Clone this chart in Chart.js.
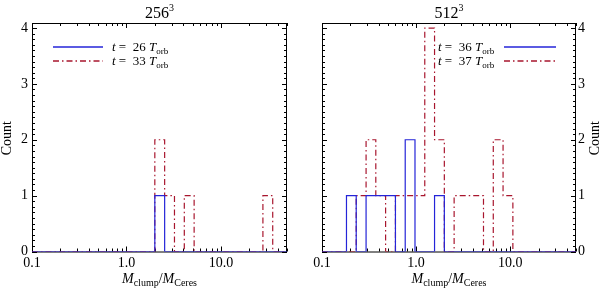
<!DOCTYPE html>
<html><head><meta charset="utf-8">
<script src="https://cdn.jsdelivr.net/npm/chart.js@4/dist/chart.umd.min.js"></script>
<style>
html,body{margin:0;padding:0;background:#fff;}
#wrap{position:relative;width:600px;height:289px;overflow:hidden;}
canvas{position:absolute;top:0;}
</style></head><body>
<div id="wrap">
<canvas id="c1" style="left:0;width:300px;height:289px" width="300" height="289"></canvas>
<canvas id="c2" style="left:300px;width:300px;height:289px" width="300" height="289"></canvas>
</div>
<script>
// ---------- data ----------
const panelTitles = ['256', '512'];
const xTickValues = [0.1, 1, 10];
const xTickLabels = ['0.1', '1.0', '10.0'];
const yTickValues = [0, 1, 2, 3, 4];

// 256^3 run
const blue256Edges  = [0.1, 1.995, 2.535, 50];
const blue256Counts = [0,   1,     0,     0];
const red256Edges   = [0.1, 1.995, 2.535, 3.221, 4.093, 5.2, 27.8, 35.3, 50];
const red256Counts  = [0,   2,     1,     0,     1,     0,   1,    0,    0];
const legend256 = ['26', '33'];

// 512^3 run
const blue512Edges  = [0.1, 0.182, 0.231, 0.294, 0.603, 0.766, 0.973, 1.570, 1.995, 50];
const blue512Counts = [0,   1,     0,     1,     0,     2,     0,     1,     0,     0];
const red512Edges   = [0.1, 0.231, 0.294, 0.373, 0.474, 0.603, 1.236, 1.570, 1.995, 2.535, 5.2, 6.607, 8.395, 10.67, 50];
const red512Counts  = [0,   1,     2,     1,     0,     1,     4,     2,     0,     1,     0,   2,     1,     0,     0];
const legend512 = ['36', '37'];

// ---------- styling ----------
const SERIF = "'Liberation Serif', 'DejaVu Serif', serif";
const BLUE = '#2424d8';
const RED = '#a8162e';

function pts(edges, counts) { return edges.map((e, i) => ({x: e, y: counts[i]})); }

function drawRich(ctx, parts, x, y, align) {
  let w = 0;
  parts.forEach(p => { ctx.font = p.font; p.w = ctx.measureText(p.t).width; w += p.w; });
  let cx = align === 'center' ? x - w / 2 : x;
  ctx.textAlign = 'left'; ctx.textBaseline = 'alphabetic'; ctx.fillStyle = '#000';
  parts.forEach(p => { ctx.font = p.font; ctx.fillText(p.t, cx, y + (p.dy || 0)); cx += p.w; });
}

const minorX = [0.2,0.3,0.4,0.5,0.6,0.7,0.8,0.9,2,3,4,5,6,7,8,9,20,30,40,50];

function makePlugin(cfg) {
  return {
    id: 'deco',
    beforeDatasetsDraw(chart) {
      const ctx = chart.ctx, a = chart.chartArea, xs = chart.scales.x, ys = chart.scales.y;
      ctx.save();
      ctx.strokeStyle = '#000'; ctx.lineWidth = 1;
      ctx.strokeRect(a.left + 0.5, a.top + 0.5, a.right - a.left - 1, a.bottom - a.top);
      ctx.beginPath();
      const tickX = (v, len) => {
        const px = Math.round(xs.getPixelForValue(v)) + 0.5;
        ctx.moveTo(px, a.bottom); ctx.lineTo(px, a.bottom - len);
        ctx.moveTo(px, a.top); ctx.lineTo(px, a.top + len);
      };
      xTickValues.forEach(v => tickX(v, 5));
      minorX.forEach(v => tickX(v, 3));
      for (let i = 0; i <= 40; i++) {
        const v = i / 10;
        const len = (i % 10 === 0) ? 5 : 3;
        const py = Math.round(ys.getPixelForValue(v)) + 0.5;
        ctx.moveTo(a.left, py); ctx.lineTo(a.left + len, py);
        ctx.moveTo(a.right, py); ctx.lineTo(a.right - len, py);
      }
      ctx.stroke();
      ctx.restore();
    },
    afterDraw(chart) {
      const ctx = chart.ctx, a = chart.chartArea;
      ctx.save();
      const cx = (a.left + a.right) / 2;
      // panel title
      drawRich(ctx, [
        {t: cfg.title, font: '16px ' + SERIF},
        {t: '3', font: '10px ' + SERIF, dy: -7}
      ], cx, 18, 'center');
      // x title
      drawRich(ctx, [
        {t: 'M', font: 'italic 14px ' + SERIF},
        {t: 'clump', font: '10px ' + SERIF, dy: 3},
        {t: '/', font: '14px ' + SERIF},
        {t: 'M', font: 'italic 14px ' + SERIF},
        {t: 'Ceres', font: '10px ' + SERIF, dy: 3}
      ], cx, 283, 'center');
      // y title
      ctx.save();
      ctx.translate(cfg.yTitleX, (a.top + a.bottom) / 2 + 1);
      ctx.rotate(-Math.PI / 2);
      ctx.font = '14px ' + SERIF; ctx.fillStyle = '#000';
      ctx.textAlign = 'center'; ctx.textBaseline = 'middle';
      ctx.fillText('Count', 0, 0);
      ctx.restore();
      // legend
      const rows = [{c: BLUE, dash: [], y: 47, lab: cfg.legend[0]}, {c: RED, dash: [6, 3, 1.5, 3], y: 61, lab: cfg.legend[1]}];
      rows.forEach(r => {
        ctx.save();
        ctx.strokeStyle = r.c; ctx.lineWidth = 1.3; ctx.setLineDash(r.dash);
        ctx.beginPath(); ctx.moveTo(cfg.lineX1, r.y); ctx.lineTo(cfg.lineX2, r.y); ctx.stroke();
        ctx.restore();
        drawRich(ctx, [
          {t: 't', font: 'italic 13px ' + SERIF},
          {t: ' =  ' + r.lab + ' ', font: '13px ' + SERIF},
          {t: 'T', font: 'italic 13px ' + SERIF},
          {t: 'orb', font: '9px ' + SERIF, dy: 3}
        ], cfg.textX, r.y + 4, 'left');
      });
      ctx.restore();
    }
  };
}

function makeChart(id, blueE, blueC, redE, redC, cfg) {
  const yRight = cfg.yPos === 'right';
  return new Chart(document.getElementById(id), {
    type: 'line',
    data: {
      datasets: [
        {data: pts(redE, redC), borderColor: RED, borderWidth: 1.2, borderDash: [6, 3, 1.5, 3], stepped: 'before', pointRadius: 0, fill: false, order: 2},
        {data: pts(blueE, blueC), borderColor: BLUE, borderWidth: 1.2, stepped: 'before', pointRadius: 0, fill: false, order: 1}
      ]
    },
    options: {
      responsive: false, animation: false, devicePixelRatio: 1,
      layout: {padding: yRight ? {top: 23, left: 22, right: 0, bottom: 0} : {top: 23, left: 0, right: 13, bottom: 0}},
      plugins: {legend: {display: false}, tooltip: {enabled: false}, title: {display: false}},
      scales: {
        x: {
          type: 'logarithmic', min: 0.1, max: 50, position: 'bottom',
          grid: {display: false, drawTicks: false}, border: {display: false},
          ticks: {
            color: '#000', font: {family: SERIF, size: 14}, padding: 3, maxRotation: 0, autoSkip: false,
            callback: (v) => { const i = xTickValues.indexOf(v); return i >= 0 ? xTickLabels[i] : ''; }
          },
          afterBuildTicks: s => { s.ticks = xTickValues.map(v => ({value: v})); },
          afterFit: s => { s.height = 37.5; }
        },
        y: {
          min: 0, max: 4.09, position: cfg.yPos,
          grid: {display: false, drawTicks: false}, border: {display: false},
          ticks: {color: '#000', font: {family: SERIF, size: 14}, padding: yRight ? 2 : 4, includeBounds: false},
          afterBuildTicks: s => { s.ticks = yTickValues.map(v => ({value: v})); },
          afterFit: s => { s.width = yRight ? 24 : 32; }
        }
      }
    },
    plugins: [makePlugin(cfg)]
  });
}

makeChart('c1', blue256Edges, blue256Counts, red256Edges, red256Counts,
  {title: panelTitles[0], yPos: 'left', yTitleX: 7, legend: legend256, lineX1: 53, lineX2: 103, textX: 112});
makeChart('c2', blue512Edges, blue512Counts, red512Edges, red512Counts,
  {title: panelTitles[1], yPos: 'right', yTitleX: 295, legend: legend512, lineX1: 204, lineX2: 256, textX: 138});
</script>
</body></html>
